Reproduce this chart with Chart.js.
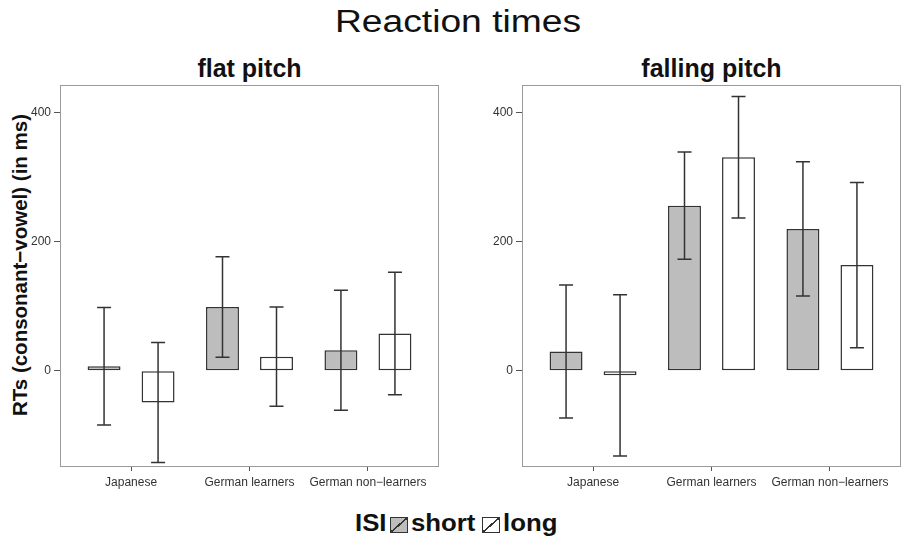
<!DOCTYPE html>
<html>
<head>
<meta charset="utf-8">
<script src="https://cdn.jsdelivr.net/npm/chart.js@4"></script>
<style>
  html, body { margin: 0; padding: 0; background: #fff; }
  body { width: 904px; height: 542px; position: relative; overflow: hidden; font-family: "Liberation Sans", Arial, sans-serif; color: #111; }
  canvas { position: absolute; top: 0; }
  .txt { position: absolute; white-space: nowrap; }
  #title { left: 6px; width: 904px; text-align: center; top: 6px; font-size: 31px; line-height: 31px; transform: scaleX(1.2); transform-origin: 452px 0; }
  .ptitle { position: absolute; top: 56px; width: 379px; text-align: center; font-size: 25px; line-height: 25px; font-weight: bold; }
  #ylab { left: -180px; width: 400px; text-align: center; top: 255px; font-size: 20.5px; line-height: 20px; font-weight: bold; transform: rotate(-90deg); transform-origin: 200px 10px; }
  .leg { position: absolute; top: 512px; font-size: 23px; line-height: 23px; font-weight: bold; transform: scaleX(1.12); transform-origin: 0 0; }
  .box { position: absolute; top: 517px; width: 16px; height: 14px; border: 1.5px solid #333; }
</style>
</head>
<body>
<div id="title" class="txt">Reaction times</div>
<div class="ptitle" style="left:60px">flat pitch</div>
<div class="ptitle" style="left:522px">falling pitch</div>
<div id="ylab" class="txt">RTs (consonant−vowel) (in ms)</div>
<div class="leg" style="left:355px">ISI</div>
<div class="box" style="left:390px;background:linear-gradient(to bottom right, #bdbdbd calc(50% - 0.8px), #333 calc(50% - 0.8px), #333 calc(50% + 0.8px), #bdbdbd calc(50% + 0.8px));"></div>
<div class="leg" style="left:411px">short</div>
<div class="box" style="left:482px;background:linear-gradient(to bottom right, #fff calc(50% - 0.8px), #333 calc(50% - 0.8px), #333 calc(50% + 0.8px), #fff calc(50% + 0.8px));"></div>
<div class="leg" style="left:503px">long</div>

<canvas id="c1" width="452" height="542" style="left:0px"></canvas>
<canvas id="c2" width="452" height="542" style="left:452px"></canvas>

<script>
// ---- data ----
const categories = ['Japanese', 'German learners', 'German non\u2212learners'];
const flatShort    = [7, 99, 32];
const flatShortErr = [91, 78, 93];
const flatLong     = [-49, 22, 58];
const flatLongErr  = [93, 77, 95];
const fallShort    = [30, 256, 220];
const fallShortErr = [103, 83, 104];
const fallLong     = [-7, 331, 164];
const fallLongErr  = [125, 94, 128];
const yTicks = [0, 200, 400];
const seriesNames = ['short', 'long'];

const shortFill = '#bdbdbd';
const longFill = '#ffffff';
const lineCol = '#333333';

const errorBars = {
  id: 'errorBars',
  afterDatasetsDraw(chart) {
    const ctx = chart.ctx;
    const ys = chart.scales.y;
    ctx.save();
    ctx.strokeStyle = lineCol;
    ctx.lineWidth = 1.5;
    chart.data.datasets.forEach((ds, di) => {
      const meta = chart.getDatasetMeta(di);
      meta.data.forEach((bar, i) => {
        const v = ds.data[i].y, e = ds.errors[i];
        const yt = ys.getPixelForValue(v + e);
        const yb = ys.getPixelForValue(v - e);
        const x = bar.x, hw = 7;
        ctx.beginPath();
        ctx.moveTo(x, yt); ctx.lineTo(x, yb);
        ctx.moveTo(x - hw, yt); ctx.lineTo(x + hw, yt);
        ctx.moveTo(x - hw, yb); ctx.lineTo(x + hw, yb);
        ctx.stroke();
      });
    });
    ctx.restore();
  }
};

const panelBorder = {
  id: 'panelBorder',
  beforeDatasetsDraw(chart) {
    const a = chart.chartArea, ctx = chart.ctx;
    ctx.save();
    ctx.strokeStyle = '#9a9a9a';
    ctx.lineWidth = 1;
    ctx.strokeRect(a.left + 0.5, a.top + 0.5, a.right - a.left - 1, a.bottom - a.top - 1);
    ctx.restore();
  }
};

function makeChart(id, shortVals, shortErr, longVals, longErr, yAxisWidth, padRight) {
  const toPts = vals => vals.map((v, i) => ({ x: i + 1, y: v }));
  return new Chart(document.getElementById(id), {
    type: 'bar',
    data: {
      datasets: [
        { label: seriesNames[0], data: toPts(shortVals), errors: shortErr, backgroundColor: shortFill, borderColor: lineCol, borderWidth: 1.5, borderSkipped: false },
        { label: seriesNames[1], data: toPts(longVals), errors: longErr, backgroundColor: longFill, borderColor: lineCol, borderWidth: 1.5, borderSkipped: false }
      ]
    },
    options: {
      responsive: false,
      animation: false,
      devicePixelRatio: 1,
      categoryPercentage: 0.912,
      barPercentage: 0.61,
      layout: { padding: { top: 85, bottom: 40, left: 0, right: padRight } },
      plugins: { legend: { display: false }, title: { display: false }, tooltip: { enabled: false } },
      scales: {
        x: {
          type: 'linear',
          offset: false,
          min: 0.4, max: 3.6,
          afterBuildTicks: s => { s.ticks = categories.map((c, i) => ({ value: i + 1 })); },
          afterFit: s => { s.height = 35; },
          ticks: {
            autoSkip: false, maxRotation: 0, minRotation: 0,
            callback: (v, i) => categories[i],
            color: '#333', font: { family: '"Liberation Sans", Arial, sans-serif', size: 12 }, padding: 4
          },
          grid: { display: true, offset: false, drawOnChartArea: false, drawTicks: true, tickLength: 4, color: '#555', lineWidth: 1 },
          border: { display: false }
        },
        y: {
          min: -149, max: 443,
          afterBuildTicks: s => { s.ticks = yTicks.map(v => ({ value: v })); },
          afterFit: s => { s.width = yAxisWidth; },
          ticks: { color: '#333', font: { family: '"Liberation Sans", Arial, sans-serif', size: 12 }, padding: 3 },
          grid: { display: true, drawOnChartArea: false, drawTicks: true, tickLength: 6, color: '#555', lineWidth: 1 },
          border: { display: false }
        }
      }
    },
    plugins: [panelBorder, errorBars]
  });
}

makeChart('c1', flatShort, flatShortErr, flatLong, flatLongErr, 60, 13);
makeChart('c2', fallShort, fallShortErr, fallLong, fallLongErr, 70, 3);
</script>
</body>
</html>
